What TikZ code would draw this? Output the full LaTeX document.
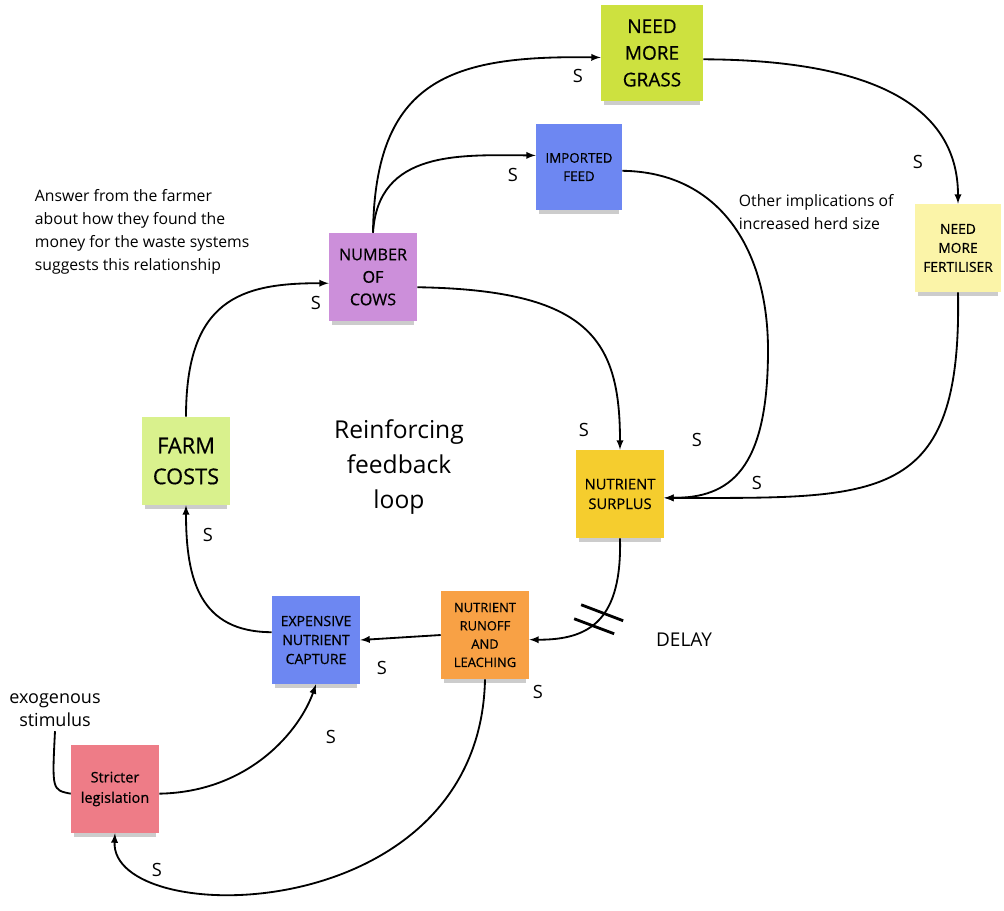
\documentclass[tikz,border=0pt]{standalone}
\usepackage{fontspec}
\setmainfont{Open Sans}
\newfontfamily\notefont[FakeBold=0.6]{Open Sans}
\usetikzlibrary{shadows}

\definecolor{grasscol}{HTML}{CDE13F}
\definecolor{feedcol}{HTML}{6D87F2}
\definecolor{fertcol}{HTML}{FBF4A8}
\definecolor{cowscol}{HTML}{CC8FDA}
\definecolor{costscol}{HTML}{D9F18D}
\definecolor{surpluscol}{HTML}{F5CD2E}
\definecolor{runoffcol}{HTML}{F8A145}
\definecolor{strictcol}{HTML}{EE7C87}

\begin{document}
\begin{tikzpicture}
    [
    x=0.025cm,y=-0.025cm,
    note/.style={align=center,inner sep=1pt,minimum width=2.2cm,minimum height=2.2cm,
      drop shadow={opacity=0.4,shadow xshift=0pt,shadow yshift=-5pt,shadow scale=0.94}},
    big/.style={note,font=\notefont\fontsize{13.5}{19}\selectfont},
    small/.style={note,font=\notefont\fontsize{9.5}{13}\selectfont},
    sign/.style={font=\fontsize{13}{15}\selectfont},
    remark/.style={font=\fontsize{11.2}{16.5}\selectfont,align=left,anchor=west},
    link/.style={line width=1.3pt},
    ]
    \useasboundingbox (0,0) rectangle (1004,910);

    \node (grass) at (652,53) [big,fill=grasscol,minimum width=2.55cm,minimum height=2.42cm] {NEED\\MORE\\GRASS};
    \node (feed) at (579,167) [small,fill=feedcol,minimum width=2.15cm,minimum height=2.15cm] {IMPORTED\\FEED};
    \node (fert) at (958,248) [small,fill=fertcol,minimum width=2.15cm,font=\notefont\fontsize{9.8}{13.5}\selectfont] {NEED\\MORE\\FERTILISER};
    \node (cows) at (373,277) [note,fill=cowscol,font=\notefont\fontsize{11.5}{16}\selectfont] {NUMBER\\OF\\COWS};
    \node (costs) at (186,461) [note,fill=costscol,font=\notefont\fontsize{15.5}{22}\selectfont] {FARM\\COSTS};
    \node (surplus) at (620,494) [small,fill=surpluscol,font=\notefont\fontsize{10.5}{14}\selectfont] {NUTRIENT\\SURPLUS};
    \node (runoff) at (485,635) [small,fill=runoffcol,font=\notefont\fontsize{9.2}{13}\selectfont] {NUTRIENT\\RUNOFF\\AND\\LEACHING};
    \node (capture) at (316,640) [small,fill=feedcol,font=\notefont\fontsize{10}{13.5}\selectfont] {EXPENSIVE\\NUTRIENT\\CAPTURE};
    \node (strict) at (115,789) [small,fill=strictcol,font=\notefont\fontsize{10.3}{14.5}\selectfont] {Stricter\\legislation};

    \node (answer) at (30,232) [remark] {Answer from the farmer\\about how they found the\\money for the waste systems\\suggests this relationship};
    \node (other) at (734,212) [remark] {Other implications of\\increased herd size};
    \node (loop) at (399,467) [align=center,font=\fontsize{17.5}{25}\selectfont] {Reinforcing\\feedback\\loop};
    \node (delay) at (684,640) [sign,font=\fontsize{13.5}{15}\selectfont] {DELAY};
    \node (exo) at (55,710) [align=center,font=\fontsize{12.8}{16}\selectfont] {exogenous\\stimulus};

    \node (s1) at (578,76) [sign] {S};
    \node (s2) at (513,175) [sign] {S};
    \node (s3) at (918,162) [sign] {S};
    \node (s4) at (316,303) [sign] {S};
    \node (s5) at (584,430) [sign] {S};
    \node (s6) at (697,440) [sign] {S};
    \node (s7) at (757,483) [sign] {S};
    \node (s8) at (208,535) [sign] {S};
    \node (s9) at (382,668) [sign] {S};
    \node (s10) at (538,692) [sign] {S};
    \node (s11) at (331,737) [sign] {S};
    \node (s12) at (157,870) [sign] {S};

    \draw [link,-latex] (cows.north) .. controls (375,80) and (450,55) .. (grass.185);
    \draw [link,-latex] (cows.north) .. controls (378,150) and (460,155) .. (feed.165);
    \draw [link,-latex] (grass.353) .. controls (880,60) and (958,110) .. (fert.north);
    \draw [link,-latex] (feed.355) .. controls (720,172) and (768,250) .. (768,350)
      .. controls (768,470) and (730,498) .. (surplus.355);
    \draw [link,-latex] (fert.south) .. controls (962,505) and (880,498) .. (surplus.355);
    \draw [link,-latex] (cows.347) .. controls (590,290) and (620,340) .. (surplus.north);
    \draw [link,-latex] (surplus.south) .. controls (622,620) and (590,640) .. coordinate[pos=0.5] (dl) (runoff.354);
    \draw [line width=2pt] ([shift={(-17,-15)}]dl) -- ([shift={(25,1)}]dl);
    \draw [line width=2pt] ([shift={(-24,-1)}]dl) -- ([shift={(16,14)}]dl);
    \draw [link,-latex] (runoff.west) -- (capture.east);
    \draw [link,-latex] (capture.170) .. controls (200,632) and (186,580) .. (costs.south);
    \draw [link,-latex] (costs.north) .. controls (186,300) and (240,283) .. (cows.188);
    \draw [link,-latex] (strict.354) .. controls (250,792) and (300,730) .. (capture.south);
    \draw [link,-latex] (runoff.south) .. controls (480,930) and (110,930) .. (strict.south);
    \draw [link] (exo.south) .. controls (52,790) .. (strict.186);
  \end{tikzpicture}
\end{document}
